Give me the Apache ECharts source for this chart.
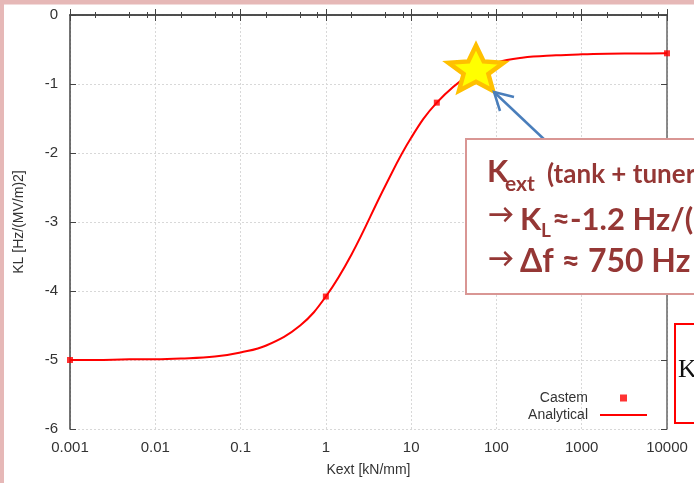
<!DOCTYPE html>
<html>
<head>
<meta charset="utf-8">
<script src="https://cdn.jsdelivr.net/npm/echarts@6/dist/echarts.min.js"></script>
<style>
  html, body { margin: 0; padding: 0; background: #fff; }
  #chart { width: 694px; height: 483px; }
</style>
</head>
<body>
<div id="chart"></div>
<script>
// values
const kext = [0.001, 0.002, 0.005, 0.01, 0.02, 0.05, 0.1, 0.2, 0.5, 1, 2, 5, 10, 20, 50, 100, 200, 500, 1000, 2000, 5000, 10000]
const klAnalytical = [-5.0, -5.0, -4.99, -4.99, -4.98, -4.95, -4.89, -4.79, -4.5, -4.08, -3.47, -2.47, -1.78, -1.27, -0.85, -0.69, -0.62, -0.585, -0.57, -0.562, -0.557, -0.555]
const castemKext = [0.001, 1, 20, 10000]
const castemKL = [-5.0, -4.08, -1.27, -0.555]
const xTickLabels = ['0.001', '0.01', '0.1', '1', '10', '100', '1000', '10000']
const yTickLabels = ['-6', '-5', '-4', '-3', '-2', '-1', '0']
const minorMantissas = [2, 5, 8]

const minorTicks = []
for (let d = 0; d < xTickLabels.length - 1; d++) {
  minorMantissas.forEach(m => minorTicks.push(m * Number(xTickLabels[d])))
}

const axisFont = 'Liberation Sans, Arial, sans-serif'
const noteFont = 'Lato, Noto Sans, sans-serif'
const noteColor = '#953735'

// star annotation outline
const starPts = []
for (let i = 0; i < 10; i++) {
  const a = -Math.PI / 2 + i * Math.PI / 5
  const r = i % 2 === 0 ? 1 : 0.45
  starPts.push([476 + 29 * r * Math.cos(a), 70.5 + 25 * r * Math.sin(a)])
}

function xAxisBase(pos) {
  return {
    type: 'log',
    logBase: 10,
    min: 0.001,
    max: 10000,
    interval: 1,
    position: pos,
    axisLine: { show: true, lineStyle: { color: '#444', width: 1.5 } },
    axisTick: { show: true, inside: true, length: 6, lineStyle: { color: '#444' } },
    axisLabel: { show: false },
    splitLine: { show: false }
  }
}

const chart = echarts.init(document.getElementById('chart'))
const option = {
  backgroundColor: '#fff',
  animation: false,
  grid: { left: 70, right: 27, top: 15, bottom: 54, show: false },
  legend: {
    orient: 'vertical',
    align: 'right',
    right: 42,
    top: 386,
    itemWidth: 47,
    itemHeight: 7,
    itemGap: 3,
    textStyle: { fontFamily: axisFont, fontSize: 14, color: '#333', padding: [0, 7, 0, 0] },
    data: [
      { name: 'Castem', icon: 'path://M0,0L1,0L1,1L0,1Z' },
      { name: 'Analytical', icon: 'path://M0,0L47,0L47,2L0,2Z' }
    ]
  },
  xAxis: [
    Object.assign(xAxisBase('bottom'), {
      name: 'Kext [kN/mm]',
      nameLocation: 'middle',
      nameGap: 34,
      nameTextStyle: { fontFamily: axisFont, fontSize: 14, color: '#333' },
      axisLabel: {
        show: true,
        margin: 11,
        fontFamily: axisFont,
        fontSize: 15,
        color: '#333',
        formatter: (v, i) => xTickLabels[i]
      },
      splitLine: { show: true, lineStyle: { color: '#d8d8d8', type: [2, 2], width: 1 } }
    }),
    Object.assign(xAxisBase('bottom'), {
      axisLine: { show: false },
      axisTick: { show: true, inside: true, length: 3, customValues: minorTicks, lineStyle: { color: '#444' } }
    }),
    xAxisBase('top'),
    Object.assign(xAxisBase('top'), {
      axisLine: { show: false },
      axisTick: { show: true, inside: true, length: 3, customValues: minorTicks, lineStyle: { color: '#444' } }
    })
  ],
  yAxis: [
    {
      type: 'value',
      min: -6,
      max: 0,
      interval: 1,
      position: 'left',
      name: 'KL [Hz/(MV/m)2]',
      nameLocation: 'middle',
      nameGap: 44,
      nameTextStyle: { fontFamily: axisFont, fontSize: 14, color: '#333' },
      axisLine: { show: true, lineStyle: { color: '#444', width: 1.5 } },
      axisTick: { show: true, inside: true, length: 6, lineStyle: { color: '#444' } },
      axisLabel: {
        margin: 12,
        fontFamily: axisFont,
        fontSize: 15,
        color: '#333',
        formatter: (v, i) => yTickLabels[i]
      },
      splitLine: { show: true, lineStyle: { color: '#d8d8d8', type: [2, 2], width: 1 } }
    },
    {
      type: 'value',
      min: -6,
      max: 0,
      interval: 1,
      position: 'right',
      axisLine: { show: true, lineStyle: { color: '#666', width: 1.5 } },
      axisTick: { show: true, inside: true, length: 6, lineStyle: { color: '#444' } },
      axisLabel: { show: false },
      splitLine: { show: false }
    }
  ],
  series: [
    {
      name: 'Analytical',
      type: 'line',
      smooth: 0.4,
      symbol: 'none',
      color: '#ff0000',
      lineStyle: { width: 2, color: '#ff0000' },
      data: kext.map((k, i) => [k, klAnalytical[i]]),
      z: 3
    },
    {
      name: 'Castem',
      type: 'scatter',
      symbol: 'rect',
      symbolSize: 6,
      color: '#ff0000',
      clip: false,
      data: castemKext.map((k, i) => [k, castemKL[i]]),
      z: 4
    }
  ],
  graphic: [
    // slide frame
    { type: 'rect', shape: { x: 0, y: 0, width: 694, height: 4.5 }, style: { fill: '#e6b8b7' }, z: 100 },
    { type: 'rect', shape: { x: 0, y: 0, width: 4, height: 483 }, style: { fill: '#e6b8b7' }, z: 100 },
    // star + arrow
    { type: 'polygon', shape: { points: starPts }, style: { fill: '#ffff00', stroke: '#ffc000', lineWidth: 4.5, lineJoin: 'miter' }, z: 100 },
    { type: 'line', shape: { x1: 547, y1: 142, x2: 494, y2: 92 }, style: { stroke: '#4a7ebb', lineWidth: 2.5 }, z: 100 },
    { type: 'polyline', shape: { points: [[514, 97], [494, 92], [500, 111]] }, style: { stroke: '#4a7ebb', lineWidth: 2.5, fill: null }, z: 100 },
    // note box
    { type: 'rect', shape: { x: 466, y: 139, width: 240, height: 155 }, style: { fill: '#fff', stroke: '#d99694', lineWidth: 2 }, z: 100 },
    { type: 'text', x: 487, y: 172, style: { text: 'K', font: 'bold 31px ' + noteFont, fill: noteColor, verticalAlign: 'middle' }, z: 101 },
    { type: 'text', x: 505, y: 184, style: { text: 'ext', font: 'bold 21px ' + noteFont, fill: noteColor, verticalAlign: 'middle' }, z: 101 },
    { type: 'text', x: 547, y: 175, style: { text: '(tank + tuner)', font: 'bold 26px ' + noteFont, fill: noteColor, verticalAlign: 'middle' }, z: 101 },
    { type: 'text', x: 488, y: 215, style: { text: '→', font: 'bold 26px ' + noteFont, fill: noteColor, verticalAlign: 'middle' }, z: 101 },
    { type: 'text', x: 520, y: 220, style: { text: 'K', font: 'bold 31px ' + noteFont, fill: noteColor, verticalAlign: 'middle' }, z: 101 },
    { type: 'text', x: 541, y: 231, style: { text: 'L', font: 'bold 19px ' + noteFont, fill: noteColor, verticalAlign: 'middle' }, z: 101 },
    { type: 'text', x: 552, y: 220, style: { text: '≈-1.2 Hz/(MV/m)²', font: 'bold 31px ' + noteFont, fill: noteColor, verticalAlign: 'middle' }, z: 101 },
    { type: 'text', x: 488, y: 259, style: { text: '→', font: 'bold 26px ' + noteFont, fill: noteColor, verticalAlign: 'middle' }, z: 101 },
    { type: 'text', x: 520, y: 262, style: { text: 'Δf ≈ 750 Hz', font: 'bold 32px ' + noteFont, fill: noteColor, verticalAlign: 'middle' }, z: 101 },
    // second box (cut at slide edge)
    { type: 'rect', shape: { x: 675, y: 324, width: 40, height: 99 }, style: { fill: '#fff', stroke: '#ff0000', lineWidth: 2 }, z: 100 },
    { type: 'text', x: 678, y: 370, style: { text: 'K', font: '26px Liberation Serif, DejaVu Serif, serif', fill: '#111', verticalAlign: 'middle' }, z: 101 }
  ]
}
chart.setOption(option)
</script>
</body>
</html>
